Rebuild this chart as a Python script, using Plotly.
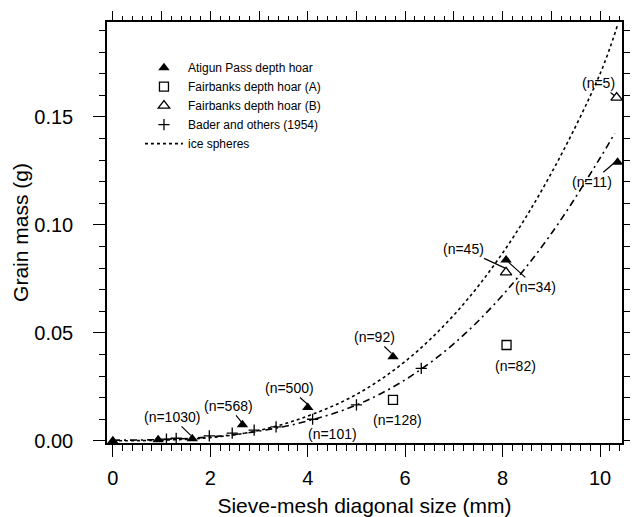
import plotly.graph_objects as go

# ---- data ----
atigun_x = [0.0, 0.93, 1.63, 2.66, 4.0, 5.75, 8.07, 10.36]
atigun_y = [0.0, 0.0005, 0.001, 0.0074, 0.0155, 0.039, 0.0838, 0.129]

fbA_x = [5.75, 8.08]
fbA_y = [0.019, 0.0444]

fbB_x = [8.07, 10.34]
fbB_y = [0.078, 0.159]

bader_x = [1.1, 1.3, 1.98, 2.45, 2.9, 3.35, 4.1, 5.0, 6.33]
bader_y = [0.0008, 0.0012, 0.0023, 0.0036, 0.0050, 0.0065, 0.0100, 0.0167, 0.0336]

ice_x = [0, 1, 2, 3, 4, 5, 6, 7, 8, 9, 10, 10.35]
ice_y = [0.0, 0.0003, 0.0015, 0.0048, 0.0115, 0.0215, 0.0368, 0.0583, 0.087, 0.124, 0.170, 0.192]

fit_x = [0, 1, 2, 3, 4, 5, 6, 7, 8, 9, 10, 10.3]
fit_y = [0.0003, 0.0006, 0.0018, 0.0045, 0.0092, 0.0166, 0.0283, 0.0450, 0.0675, 0.096, 0.131, 0.1424]

x_range = [-0.12, 10.45]
y_range = [-0.001, 0.194]

# annotation labels: (text, text_x, text_y, tip_x, tip_y or None)
labels = [
    ("(n=1030)", 1.21, 0.0111, 1.60, 0.0025),
    ("(n=568)", 2.37, 0.0162, 2.72, 0.0065),
    ("(n=500)", 3.62, 0.0245, 4.02, 0.0165),
    ("(n=101)", 4.51, 0.0032, None, None),
    ("(n=92)", 5.37, 0.0481, 5.72, 0.0405),
    ("(n=128)", 5.84, 0.0097, None, None),
    ("(n=82)", 8.27, 0.0347, None, None),
    ("(n=45)", 7.20, 0.0889, 8.05, 0.0800),
    ("(n=34)", 8.68, 0.0713, 8.07, 0.0838),
    ("(n=11)", 9.84, 0.1200, 10.33, 0.1295),
    ("(n=5)", 9.96, 0.1657, 10.29, 0.1600),
]

FONT = "Liberation Sans, Arial, Helvetica, sans-serif"

fig = go.Figure()

fig.add_trace(go.Scatter(x=atigun_x, y=atigun_y, mode="markers", name="Atigun Pass depth hoar",
                         marker=dict(symbol="triangle-up", size=10, color="black")))
fig.add_trace(go.Scatter(x=fbA_x, y=fbA_y, mode="markers", name="Fairbanks depth hoar (A)",
                         marker=dict(symbol="square-open", size=9, color="black", line=dict(width=1.3))))
fig.add_trace(go.Scatter(x=fbB_x, y=fbB_y, mode="markers", name="Fairbanks depth hoar (B)",
                         marker=dict(symbol="triangle-up-open", size=10, color="black", line=dict(width=1.3))))
fig.add_trace(go.Scatter(x=bader_x, y=bader_y, mode="markers", name="Bader and others (1954)",
                         marker=dict(symbol="cross-thin", size=8, color="black", line=dict(width=1.3, color="black"))))
fig.add_trace(go.Scatter(x=ice_x, y=ice_y, mode="lines", name="ice spheres", line_shape="spline",
                         line=dict(color="black", width=1.6, dash="dot")))
fig.add_trace(go.Scatter(x=fit_x, y=fit_y, mode="lines", showlegend=False, line_shape="spline",
                         line=dict(color="black", width=1.6, dash="7px,4px,2px,4px")))
# invisible trace to carry the mirrored (top/right) tick axes
fig.add_trace(go.Scatter(x=[x_range[0]], y=[y_range[0]], xaxis="x2", yaxis="y2", mode="markers",
                         marker=dict(opacity=0), showlegend=False, hoverinfo="skip"))

for text, tx, ty, px, py in labels:
    if px is None:
        fig.add_annotation(x=tx, y=ty, text=text, showarrow=False,
                           font=dict(family=FONT, size=14, color="black"))
    else:
        fig.add_annotation(x=px, y=py, ax=tx, ay=ty, axref="x", ayref="y", text=text,
                           showarrow=True, arrowhead=0, arrowwidth=1.2, arrowcolor="black",
                           standoff=0, font=dict(family=FONT, size=14, color="black"))

axis_common = dict(showline=True, linecolor="black", linewidth=1.5, mirror=True,
                   ticks="outside", tickcolor="black", tickwidth=1.3, ticklen=12,
                   showgrid=False, zeroline=False, automargin=False,
                   tickfont=dict(family=FONT, size=20, color="black"))

fig.update_layout(
    width=633, height=517,
    margin=dict(l=107, r=11, t=22, b=74, autoexpand=False),
    paper_bgcolor="white", plot_bgcolor="white",
    font=dict(family=FONT, color="black"),
    xaxis=dict(range=x_range, tick0=0, dtick=2, ticklabelstandoff=4,
               minor=dict(dtick=0.2, ticks="outside", ticklen=6, tickcolor="black", tickwidth=1.2),
               title=dict(text="Sieve-mesh diagonal size (mm)", font=dict(family=FONT, size=21, color="black"),
                          standoff=12),
               **axis_common),
    yaxis=dict(range=y_range, tick0=0, dtick=0.05, tickformat=".2f", ticklabelstandoff=16,
               minor=dict(dtick=0.01, ticks="outside", ticklen=6, tickcolor="black", tickwidth=1.2),
               title=dict(text="Grain mass (g)", font=dict(family=FONT, size=21, color="black"),
                          standoff=0),
               **axis_common),
    xaxis2=dict(range=x_range, overlaying="x", side="top", anchor="y", showticklabels=False,
                showgrid=False, zeroline=False, showline=False, automargin=False,
                tick0=0, dtick=1, ticks="outside", ticklen=10, tickwidth=1.3, tickcolor="black",
                minor=dict(dtick=0.2, ticks="outside", ticklen=5, tickcolor="black", tickwidth=1.2)),
    yaxis2=dict(range=y_range, overlaying="y", side="right", anchor="x", showticklabels=False,
                showgrid=False, zeroline=False, showline=False, automargin=False,
                tick0=0, dtick=0.01, ticks="outside", ticklen=7, tickwidth=1.3, tickcolor="black"),
    legend=dict(x=0.064, y=0.926, xanchor="left", yanchor="top",
                bgcolor="rgba(0,0,0,0)", font=dict(family=FONT, size=12, color="black"),
                itemwidth=38, tracegroupgap=0),
)

fig.write_html("out.html")
